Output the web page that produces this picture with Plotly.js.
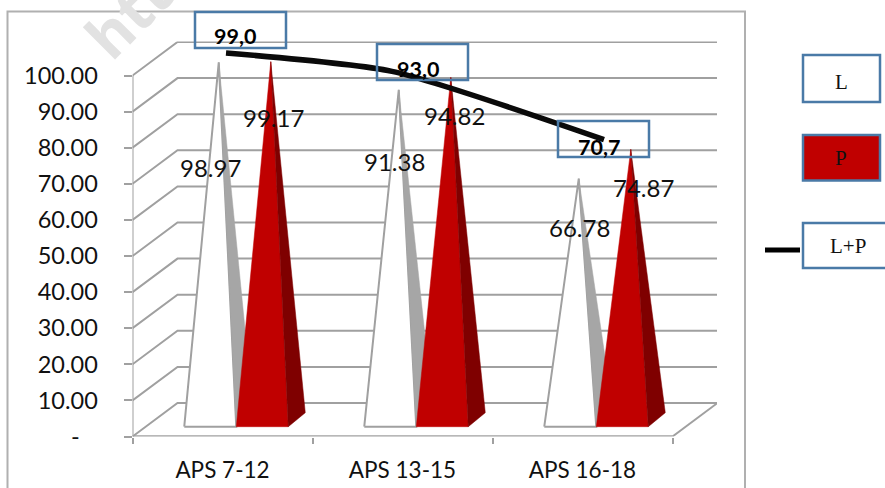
<!DOCTYPE html>
<html>
<head>
<meta charset="utf-8">
<script src="https://cdn.plot.ly/plotly-3.0.1.min.js"></script>
<style>html,body{margin:0;padding:0;background:#fff;overflow:hidden}#chart{width:885px;height:488px}</style>
</head>
<body>
<div id="chart"></div>
<script>
// ---- data ----
var categories = ['APS 7-12', 'APS 13-15', 'APS 16-18'];
var seriesL = [98.97, 91.38, 66.78];
var seriesP = [99.17, 94.82, 74.87];
var seriesLP = [99.0, 93.0, 70.7];
var axisValues = [0, 10, 20, 30, 40, 50, 60, 70, 80, 90, 100];
var axisLabels = ['-\u00a0\u00a0\u00a0', '10.00', '20.00', '30.00', '40.00', '50.00', '60.00', '70.00', '80.00', '90.00', '100.00'];

// ---- page geometry (pixels) ----
var W = 885, H = 488;
var PL = 132.5, PR = 717, PB = 436.5, PT = 41.5, CATW = 180, UNIT = 3.61;
var px = function (x) { return x / W; };
var py = function (y) { return 1 - y / H; };
var toX = function (x) { return -0.5 + (x - PL) / CATW; };
var toY = function (y) { return (PB - y) / UNIT; };

// oblique 3D projection of the chart box
var DEPTH_X = 45 / CATW, DEPTH_Y = 33.5 / UNIT;
var BAR_W = 52 / CATW, BAR_DX = 17 / CATW, BAR_DY = 14 / UNIT, BAR_BASE = 9.8 / UNIT;
var OFFSET_L = -0.068, OFFSET_P = 0.221;

var GRID = '#a0a0a0';
var traces = [];
function poly(xs, ys, fill, lineColor, lineW) {
  traces.push({
    type: 'scatter', mode: 'lines', x: xs, y: ys, fill: 'toself', fillcolor: fill,
    line: { color: lineColor, width: lineW }, hoverinfo: 'skip', showlegend: false, cliponaxis: false
  });
}
function path(xs, ys, color, w) {
  traces.push({
    type: 'scatter', mode: 'lines', x: xs, y: ys, line: { color: color, width: w },
    hoverinfo: 'skip', showlegend: false, cliponaxis: false
  });
}
var x0 = -0.5, xEnd = x0 + categories.length;

// wall gridlines
axisValues.forEach(function (v) {
  path([x0, x0 + DEPTH_X, xEnd + DEPTH_X], [v, v + DEPTH_Y, v + DEPTH_Y], GRID, 2);
});
// floor
path([xEnd, xEnd + DEPTH_X], [0, DEPTH_Y], GRID, 2);
path([x0, xEnd], [0, 0], GRID, 2.5);
path([x0, x0], [0, 100], GRID, 2);

// pyramids
function pyramid(i, value, offset, front, side, outline, outlineW) {
  var c = i + offset, l = c - BAR_W / 2, r = c + BAR_W / 2;
  var ax = c + BAR_DX / 2, ay = BAR_BASE + BAR_DY / 2 + value;
  poly([l, r, ax, l], [BAR_BASE, BAR_BASE, ay, BAR_BASE], front, outline, outlineW);
  poly([r, r + BAR_DX, ax, r], [BAR_BASE, BAR_BASE + BAR_DY, ay, BAR_BASE], side, side, 0.5);
}
seriesL.forEach(function (v, i) { pyramid(i, v, OFFSET_L, '#ffffff', '#a6a6a6', '#a0a0a0', 2); });
seriesP.forEach(function (v, i) { pyramid(i, v, OFFSET_P, '#c00000', '#7f0000', '#c00000', 0.5); });

// L+P line, on its own hidden scale
var lineX = [toX(226), toX(392), toX(604)];
traces.push({
  type: 'scatter', mode: 'lines', x: lineX, y: seriesLP, yaxis: 'y2',
  line: { color: '#0a0a0a', width: 5.5, shape: 'spline', smoothing: 0.6 },
  hoverinfo: 'skip', showlegend: false, cliponaxis: false
});

// ---- text ----
var FONT = 'Lato, Carlito, Calibri, sans-serif';
var annotations = [];
function note(text, x, y, size, extra) {
  var a = {
    text: text, xref: 'paper', yref: 'paper', x: px(x), y: py(y), xanchor: 'center', yanchor: 'middle',
    showarrow: false, font: { family: FONT, size: size, color: '#111' }
  };
  for (var k in extra) a[k] = extra[k];
  annotations.push(a);
}
// watermark
note('htt', 128, 14, 60, { textangle: -45, font: { family: 'Open Sans, sans-serif', size: 60, color: '#e2e2e2', weight: 700 } });

var labelPosL = [[210, 168], [394, 161], [579, 227]];
var labelPosP = [[273, 117], [454, 116], [643, 187]];
seriesL.forEach(function (v, i) { note(v.toFixed(2), labelPosL[i][0], labelPosL[i][1], 24); });
seriesP.forEach(function (v, i) { note(v.toFixed(2), labelPosP[i][0], labelPosP[i][1], 24); });

var boxPos = [[195, 12], [377, 44], [558, 121]];
var BOX_W = 91, BOX_H = 36;
var labelBoxPos = [[235, 36], [418, 69], [599, 147]];
var BLUE = '#4a7aa7';
var shapes = [{
  type: 'rect', xref: 'paper', yref: 'paper', layer: 'below',
  x0: px(7.5), x1: px(745), y0: py(492), y1: py(11.5),
  line: { color: '#b0b0b0', width: 2 }, fillcolor: 'rgba(0,0,0,0)'
}];
function rect(x1, y1, x2, y2, fill) {
  shapes.push({
    type: 'rect', xref: 'paper', yref: 'paper', x0: px(x1), x1: px(x2), y0: py(y2), y1: py(y1),
    line: { color: BLUE, width: 2.5 }, fillcolor: fill
  });
}
seriesLP.forEach(function (v, i) {
  rect(boxPos[i][0], boxPos[i][1], boxPos[i][0] + BOX_W, boxPos[i][1] + BOX_H, 'rgba(0,0,0,0)');
  note(v.toFixed(1).replace('.', ','), labelBoxPos[i][0], labelBoxPos[i][1], 21.5, {
    font: { family: FONT, size: 21.5, color: '#000', weight: 700 }
  });
});

// legend
var SERIF = '"Liberation Serif", "Times New Roman", serif';
rect(803, 55, 880, 102, '#ffffff');
rect(803, 135, 880, 180.5, '#c00000');
rect(803, 223, 892, 268, '#ffffff');
shapes.push({
  type: 'line', xref: 'paper', yref: 'paper', x0: px(765), x1: px(800), y0: py(250), y1: py(250),
  line: { color: '#000', width: 5 }
});
var legendNames = ['L', 'P', 'L+P'];
var legendPos = [[841, 82], [841, 158], [848, 246]];
legendNames.forEach(function (n, i) {
  note(n, legendPos[i][0], legendPos[i][1], 21, { font: { family: SERIF, size: 21, color: '#111' } });
});

var layout = {
  width: W, height: H, autosize: false,
  margin: { l: 0, r: 0, t: 0, b: 0, pad: 0 },
  paper_bgcolor: '#fff', plot_bgcolor: 'rgba(0,0,0,0)',
  showlegend: false,
  xaxis: {
    domain: [px(PL), px(PR)], range: [x0, toX(PR)], showgrid: false, zeroline: false, showline: false,
    tickmode: 'array', tickvals: categories.map(function (c, i) { return i; }), ticktext: categories,
    ticks: 'outside', ticklen: 13, tickcolor: 'rgba(0,0,0,0)',
    tickfont: { family: FONT, size: 22.5, color: '#111' },
    minor: {
      tickmode: 'array', tickvals: [-0.5, 0.5, 1.5, 2.5], ticks: 'outside', ticklen: 6, tickwidth: 2,
      tickcolor: GRID, showgrid: false
    }
  },
  yaxis: {
    domain: [py(PB), py(PT)], range: [0, toY(PT)], showgrid: false, zeroline: false, showline: false,
    tickmode: 'array', tickvals: axisValues, ticktext: axisLabels,
    ticks: 'outside', ticklen: 8, tickwidth: 2, tickcolor: GRID, ticklabelstandoff: 21,
    tickfont: { family: FONT, size: 23.5, color: '#111' }
  },
  yaxis2: {
    overlaying: 'y', domain: [py(PB), py(PT)], range: [99 - (PB - 53) / 3.06, 99 + (53 - PT) / 3.06],
    visible: false, showgrid: false, zeroline: false
  },
  annotations: annotations,
  shapes: shapes
};
Plotly.newPlot('chart', traces, layout, { displayModeBar: false, staticPlot: true });
</script>
</body>
</html>
